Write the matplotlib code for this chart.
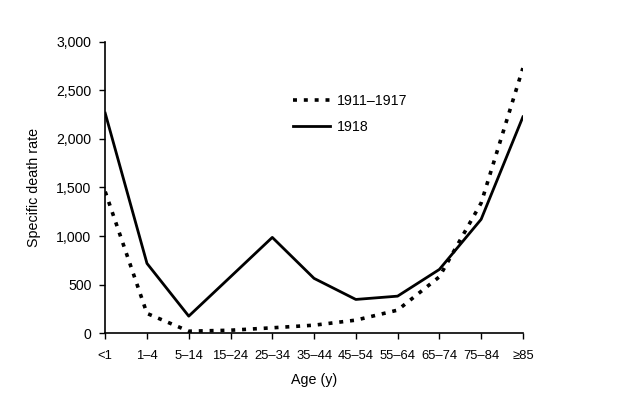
import matplotlib
matplotlib.use("Agg")
import matplotlib.pyplot as plt

plt.rcParams['font.family'] = ['Liberation Sans', 'DejaVu Sans']

age_groups = ["<1", "1–4", "5–14", "15–24", "25–34", "35–44", "45–54", "55–64", "65–74", "75–84", "≥85"]
rate_1911_1917 = [1457, 203, 20, 30, 55, 82, 134, 237, 580, 1340, 2729]
rate_1918 = [2265, 718, 175, 580, 986, 564, 347, 381, 656, 1172, 2227]
y_ticks = [0, 500, 1000, 1500, 2000, 2500, 3000]
y_tick_labels = ["0", "500", "1,000", "1,500", "2,000", "2,500", "3,000"]

fig = plt.figure(figsize=(6.3, 4.18), dpi=100)
ax = fig.add_axes([0.167, 0.203, 0.663, 0.697])

x = list(range(len(age_groups)))
ax.plot(x, rate_1911_1917, color='black', linewidth=2.6, linestyle=(0, (1.1, 1.9)), label='1911–1917')
ax.plot(x, rate_1918, color='black', linewidth=2.0, linestyle='-', label='1918')

ax.set_xlim(0, len(age_groups) - 1)
ax.set_ylim(0, 3000)
ax.set_xticks(x)
ax.set_xticklabels(age_groups, fontsize=9.4)
ax.set_yticks(y_ticks)
ax.set_yticklabels(y_tick_labels, fontsize=10.2)
ax.spines['top'].set_visible(False)
ax.spines['right'].set_visible(False)
ax.spines['left'].set_linewidth(1.2)
ax.spines['bottom'].set_linewidth(1.2)
ax.tick_params(axis='both', direction='out', length=4, width=1.0, pad=6)
ax.tick_params(axis='x', pad=8)

ax.set_xlabel("Age (y)", fontsize=10.3, labelpad=8)
ax.set_ylabel("Specific death rate", fontsize=10.3, labelpad=11)

ax.legend(loc='upper left', bbox_to_anchor=(0.45, 0.822), frameon=False, fontsize=10.2,
          handlelength=2.6, labelspacing=0.85, borderpad=0, borderaxespad=0, handletextpad=0.5)

fig.savefig("out.png", dpi=100, facecolor='white')
